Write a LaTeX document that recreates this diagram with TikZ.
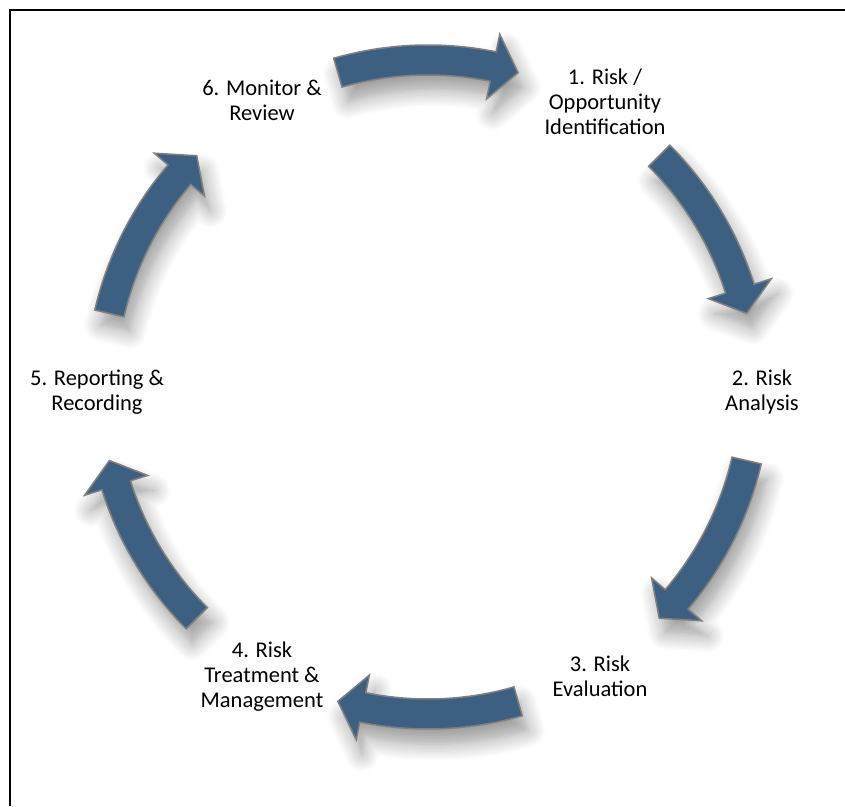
\documentclass[tikz,border=0pt]{standalone}
\usepackage{fontspec}
\setmainfont{Carlito}
\usetikzlibrary{shadows.blur}
\definecolor{arrowblue}{RGB}{61,95,129}
\definecolor{edgegray}{RGB}{128,128,128}

\begin{document}
\begin{tikzpicture}[x=1pt,y=1pt,
    lbl/.style={align=center,font=\fontsize{22.5}{25}\selectfont,inner sep=0pt},
    arw/.style={fill=arrowblue,draw=edgegray,line width=1.5pt,line join=miter,
        blur shadow={shadow xshift=6pt,shadow yshift=-15pt,shadow blur radius=17pt,shadow blur steps=8,shadow opacity=40}}]
    \useasboundingbox (-428,-419) rectangle (417,387);
    \draw[line width=2pt] (-418,-419) -- (-418,377) -- (417,377);

    \node[lbl] (s1) at (177,285) {1. Risk /\\Opportunity\\Identification};
    \node[lbl] (s2) at (334,-5) {2. Risk\\Analysis};
    \node[lbl] (s3) at (172,-289) {3. Risk\\Evaluation};
    \node[lbl] (s4) at (-166,-290) {4. Risk\\Treatment \&\\Management};
    \node[lbl] (s5) at (-331,-5) {5. Reporting \&\\Recording};
    \node[lbl] (s6) at (-166,287) {6. Monitor \&\\Review};

    \foreach \c in {90,29,-29,-90,-151,151} {
        \draw[arw] ({\c+16}:342pt) arc[start angle={\c+16}, end angle={\c-11.5}, radius=342pt]
            -- ({\c-11.5}:360pt) -- ({\c-16}:327pt) -- ({\c-11.5}:294pt) -- ({\c-11.5}:312pt)
            arc[start angle={\c-11.5}, end angle={\c+16}, radius=312pt] -- cycle;
    }
\end{tikzpicture}
\end{document}
